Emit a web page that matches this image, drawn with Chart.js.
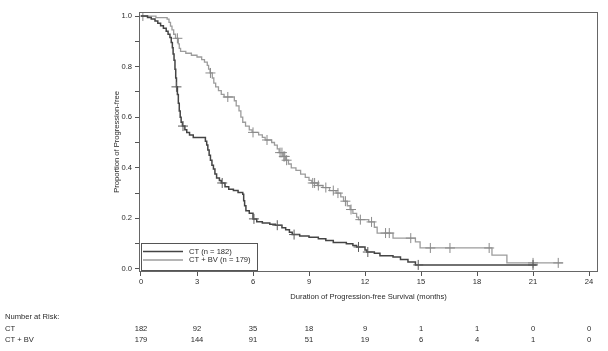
<!DOCTYPE html>
<html>
<head>
<meta charset="utf-8">
<script src="https://cdn.jsdelivr.net/npm/chart.js@4.4.1/dist/chart.umd.min.js"></script>
<style>
  html, body { margin: 0; padding: 0; background: #fff; }
</style>
</head>
<body>
<canvas id="myChart" width="608" height="351"></canvas>
<script>
/*----------- data ------------ */
const seriesLabels = ['CT (n = 182)', 'CT + BV (n = 179)'];

// CT arm: step times (months) and survival after each drop
const ctTimes = [0, 0.35, 0.55, 0.75, 0.9, 1.05, 1.2, 1.35, 1.45, 1.55, 1.62, 1.68, 1.72, 1.77, 1.82, 1.86, 1.9, 1.95, 2.0, 2.05, 2.1, 2.15, 2.22, 2.35, 2.45, 2.6, 2.8,
  3.45, 3.52, 3.58, 3.65, 3.72, 3.8, 3.88, 3.96, 4.05, 4.2, 4.3, 4.5, 4.7, 4.95, 5.2, 5.45, 5.5, 5.55, 5.62, 5.8, 6.0, 6.2, 6.5, 6.9, 7.2,
  7.55, 7.75, 7.95, 8.1, 8.5, 9.0, 9.5, 9.9, 10.3, 11.0, 11.35, 11.55, 12.0, 12.1, 12.5, 12.8, 13.5, 13.9, 14.3, 14.7, 21.2];
const ctSurv = [1.0, 0.994, 0.988, 0.98, 0.972, 0.962, 0.952, 0.94, 0.928, 0.915, 0.895, 0.875, 0.85, 0.825, 0.79, 0.755, 0.72, 0.69, 0.655, 0.625, 0.6, 0.58, 0.565, 0.55, 0.54, 0.53, 0.52,
  0.505, 0.49, 0.47, 0.45, 0.43, 0.41, 0.395, 0.375, 0.36, 0.35, 0.34, 0.325, 0.315, 0.31, 0.302, 0.295, 0.27, 0.25, 0.23, 0.22, 0.198, 0.187, 0.182, 0.177, 0.173,
  0.163, 0.155, 0.145, 0.136, 0.13, 0.125, 0.119, 0.113, 0.105, 0.1, 0.093, 0.087, 0.075, 0.067, 0.062, 0.052, 0.047, 0.037, 0.028, 0.016, 0.016];
const ctCensorTimes = [1.9, 2.25, 4.35, 6.05, 7.3, 8.2, 11.65, 12.15, 14.85, 21.0];
const ctCensorSurv = [0.72, 0.565, 0.34, 0.198, 0.173, 0.136, 0.087, 0.067, 0.016, 0.016];

// CT + BV arm
const bvTimes = [0, 0.8, 1.4, 1.5, 1.58, 1.66, 1.75, 1.85, 2.0, 2.05, 2.12, 2.4, 2.7, 3.0, 3.25, 3.4, 3.55, 3.62, 3.7, 3.82, 3.9, 4.0, 4.15, 4.3, 4.45,
  5.0, 5.1, 5.25, 5.35, 5.45, 5.6, 5.8, 5.95, 6.3, 6.5, 6.65, 7.0, 7.15, 7.3, 7.4, 7.6, 7.75, 7.9, 8.05, 8.3, 8.55, 8.8, 9.0, 9.15, 9.45, 9.75,
  10.1, 10.45, 10.7, 10.85, 11.05, 11.2, 11.35, 11.55, 11.65, 12.2, 12.5, 12.65, 13.5, 14.7, 14.95, 18.8, 19.6, 22.6];
const bvSurv = [1.0, 0.994, 0.988, 0.975, 0.96, 0.945, 0.928, 0.912, 0.89, 0.872, 0.86, 0.853, 0.845, 0.838, 0.828, 0.818, 0.805, 0.79, 0.775, 0.755, 0.735, 0.72, 0.705, 0.69, 0.68,
  0.665, 0.645, 0.625, 0.6, 0.58, 0.565, 0.55, 0.54, 0.53, 0.52, 0.51, 0.5, 0.49, 0.475, 0.46, 0.445, 0.43, 0.415, 0.4, 0.39, 0.375, 0.362, 0.35, 0.34, 0.33, 0.322,
  0.31, 0.3, 0.285, 0.268, 0.25, 0.235, 0.22, 0.205, 0.195, 0.186, 0.165, 0.142, 0.122, 0.107, 0.083, 0.055, 0.024, 0.024];
const bvCensorTimes = [0.1, 1.95, 3.72, 4.65, 6.0, 6.75, 7.45, 7.55, 7.65, 7.7, 7.8, 9.2, 9.3, 9.5, 9.9, 10.3, 10.55, 10.95, 11.25, 11.75, 12.35, 13.1, 13.3, 14.45, 15.5, 16.55, 18.65, 21.0, 22.35];
const bvCensorSurv = [1.0, 0.912, 0.775, 0.68, 0.54, 0.51, 0.46, 0.46, 0.445, 0.445, 0.43, 0.34, 0.34, 0.33, 0.322, 0.31, 0.3, 0.268, 0.235, 0.195, 0.186, 0.142, 0.142, 0.122, 0.083, 0.083, 0.083, 0.024, 0.024];

// axis ticks and number-at-risk table
const xTicks = [0, 3, 6, 9, 12, 15, 18, 21, 24];
const yTicks = [0, 0.1, 0.2, 0.3, 0.4, 0.5, 0.6, 0.7, 0.8, 0.9, 1.0];
const yLabelled = [0, 0.2, 0.4, 0.6, 0.8, 1.0];
const riskTimes = [0, 3, 6, 9, 12, 15, 18, 21, 24];
const riskCT = [182, 92, 35, 18, 9, 1, 1, 0, 0];
const riskBV = [179, 144, 91, 51, 19, 6, 4, 1, 0];

/*----------- chart ------------ */
const FONT = 'Liberation Sans, Arial, sans-serif';
const TXT = '#2a2a2a';
const DARK = '#444';
const LIGHT = '#9c9c9c';

function pts(xs, ys) {
  return xs.map((x, i) => ({ x: x, y: ys[i] }));
}

const frameAndExtras = {
  id: 'frameAndExtras',
  afterDraw(chart) {
    const ctx = chart.ctx;
    const a = chart.chartArea;
    const xs = chart.scales.x;
    ctx.save();
    // plot frame
    ctx.strokeStyle = '#666';
    ctx.lineWidth = 1;
    ctx.strokeRect(a.left + 0.5, a.top + 0.5, a.right - a.left - 1, a.bottom - a.top - 1);

    // legend in lower left
    const lx = a.left + 2, ly = a.bottom - 29, lw = 116, lh = 27;
    ctx.fillStyle = '#fff';
    ctx.fillRect(lx, ly, lw, lh);
    ctx.strokeStyle = '#555';
    ctx.strokeRect(lx + 0.5, ly + 0.5, lw, lh);
    ctx.font = '7.6px ' + FONT;
    ctx.textBaseline = 'middle';
    ctx.textAlign = 'left';
    [[DARK, 1.5], [LIGHT, 1.3]].forEach((st, i) => {
      const yy = ly + 8.5 + i * 8.5;
      ctx.strokeStyle = st[0];
      ctx.lineWidth = st[1];
      ctx.beginPath();
      ctx.moveTo(lx + 2, yy);
      ctx.lineTo(lx + 42, yy);
      ctx.stroke();
      ctx.fillStyle = TXT;
      ctx.fillText(seriesLabels[i], lx + 48, yy);
    });

    // number at risk table
    ctx.fillStyle = TXT;
    ctx.textAlign = 'left';
    ctx.fillText('Number at Risk:', 5, 317);
    ctx.fillText('CT', 5, 328.5);
    ctx.fillText('CT + BV', 5, 340);
    ctx.textAlign = 'center';
    riskTimes.forEach((t, i) => {
      const px = xs.getPixelForValue(t);
      ctx.fillText(String(riskCT[i]), px, 328.5);
      ctx.fillText(String(riskBV[i]), px, 340);
    });
    ctx.restore();
  }
};

const data = {
  datasets: [{
    label: seriesLabels[0],
    data: pts(ctTimes, ctSurv),
    borderColor: DARK,
    borderWidth: 1.5,
    stepped: true,
    pointRadius: 0,
    fill: false,
    order: 1
  }, {
    label: seriesLabels[1],
    data: pts(bvTimes, bvSurv),
    borderColor: LIGHT,
    borderWidth: 1.3,
    stepped: true,
    pointRadius: 0,
    fill: false,
    order: 3
  }, {
    label: 'CT censored',
    data: pts(ctCensorTimes, ctCensorSurv),
    showLine: false,
    pointStyle: 'cross',
    pointRadius: 5,
    pointBorderWidth: 1,
    borderColor: '#5a5a5a',
    order: 0
  }, {
    label: 'CT + BV censored',
    data: pts(bvCensorTimes, bvCensorSurv),
    showLine: false,
    pointStyle: 'cross',
    pointRadius: 5,
    pointBorderWidth: 1,
    borderColor: '#8a8a8a',
    order: 2
  }]
};

const config = {
  type: 'line',
  data: data,
  options: {
    responsive: false,
    animation: false,
    layout: { padding: { left: 100, top: 12, right: 10, bottom: 47 } },
    plugins: {
      legend: { display: false },
      tooltip: { enabled: false }
    },
    scales: {
      x: {
        type: 'linear',
        min: -0.107,
        max: 24.48,
        afterBuildTicks: (s) => { s.ticks = xTicks.map(v => ({ value: v })); },
        afterFit: (s) => { s.height = 32; },
        ticks: { color: TXT, font: { family: FONT, size: 7.6 }, padding: 1, maxRotation: 0, autoSkip: false },
        grid: { drawOnChartArea: false, tickLength: 4, color: '#555' },
        border: { display: false },
        title: {
          display: true,
          text: 'Duration of Progression-free Survival (months)',
          color: TXT,
          font: { family: FONT, size: 7.6 },
          padding: { top: 0, bottom: 3 }
        }
      },
      y: {
        min: -0.012,
        max: 1.016,
        afterBuildTicks: (s) => { s.ticks = yTicks.map(v => ({ value: v })); },
        afterFit: (s) => { s.width = 39; },
        ticks: {
          color: TXT,
          font: { family: FONT, size: 7.6 },
          padding: 3,
          autoSkip: false,
          callback: (v) => yLabelled.some(t => Math.abs(t - v) < 1e-6) ? v.toFixed(1) : ''
        },
        grid: { drawOnChartArea: false, tickLength: 4, color: '#555' },
        border: { display: false },
        title: {
          display: true,
          text: 'Proportion of Progression-free',
          color: TXT,
          font: { family: FONT, size: 7.6 },
          padding: { top: 12, bottom: 0 }
        }
      }
    }
  },
  plugins: [frameAndExtras]
};

const myChart = new Chart(
  document.getElementById('myChart'),
  config
);
</script>
</body>
</html>
